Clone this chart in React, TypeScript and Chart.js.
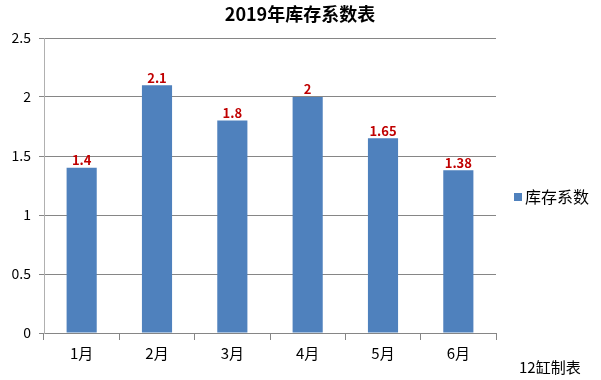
import React, { useEffect, useRef } from "react";
import { Chart, registerables } from "chart.js";

Chart.register(...registerables);

const categories = ["1月", "2月", "3月", "4月", "5月", "6月"];
const values = [1.4, 2.1, 1.8, 2, 1.65, 1.38];
const valueLabels = ["1.4", "2.1", "1.8", "2", "1.65", "1.38"];
const seriesName = "库存系数";
const titleText = "2019年库存系数表";
const footText = "12缸制表";

const FONT = "'Noto Sans CJK SC', 'Liberation Sans', sans-serif";

export default function App() {
  const ref = useRef<HTMLCanvasElement | null>(null);

  useEffect(() => {
    document.body.style.margin = "0";
    const canvas = ref.current!;
    const extras = {
      id: "extras",
      afterDraw(chart: any) {
        const ctx = chart.ctx;
        const meta = chart.getDatasetMeta(0);
        ctx.save();
        // data labels
        ctx.fillStyle = "#c00000";
        ctx.font = `bold 13px ${FONT}`;
        ctx.textAlign = "center";
        ctx.textBaseline = "bottom";
        meta.data.forEach((bar: any, i: number) => {
          ctx.fillText(valueLabels[i], bar.x, bar.y - 1);
        });
        // title
        ctx.fillStyle = "#000";
        ctx.font = `bold 18px ${FONT}`;
        ctx.textBaseline = "middle";
        ctx.fillText(titleText, 300, 14);
        // legend
        ctx.fillStyle = "#4f81bd";
        ctx.fillRect(514, 193, 8, 8);
        ctx.fillStyle = "#000";
        ctx.font = `16px ${FONT}`;
        ctx.textAlign = "left";
        ctx.fillText(seriesName, 525, 197);
        // footer
        ctx.font = `15px ${FONT}`;
        ctx.fillText(footText, 519, 367);
        ctx.restore();
      },
    };
    const chart = new Chart(canvas, {
      type: "bar",
      data: {
        labels: categories,
        datasets: [
          {
            label: seriesName,
            data: values,
            backgroundColor: "#4f81bd",
            borderWidth: 0,
            barPercentage: 0.4,
            categoryPercentage: 1,
          },
        ],
      },
      options: {
        animation: false,
        responsive: false,
        maintainAspectRatio: false,
        layout: { padding: { left: 0, right: 105, top: 38, bottom: 0 } },
        plugins: {
          legend: { display: false },
          title: { display: false },
          tooltip: { enabled: false },
        },
        scales: {
          x: {
            afterFit(scale: any) {
              scale.height = 47;
            },
            grid: {
              offset: true,
              drawOnChartArea: false,
              drawTicks: true,
              tickLength: 7,
              color: "#868686",
            },
            border: { color: "#868686", width: 1 },
            ticks: {
              color: "#000",
              font: { family: FONT, size: 15 },
              padding: 4,
            },
          },
          y: {
            min: 0,
            max: 2.5,
            afterFit(scale: any) {
              scale.width = 44;
            },
            grid: {
              color: "#868686",
              drawTicks: true,
              tickLength: 5,
            },
            border: { color: "#b0b0b0", width: 1 },
            ticks: {
              stepSize: 0.5,
              color: "#000",
              font: { family: FONT, size: 14 },
              padding: 8,
              callback: (v: any) => String(v),
            },
          },
        },
      },
      plugins: [extras],
    } as any);
    return () => chart.destroy();
  }, []);

  return (
    <div style={{ position: "fixed", left: 0, top: 0, width: 601, height: 380, background: "#fff" }}>
      <canvas ref={ref} width={601} height={380} style={{ width: 601, height: 380 }} />
    </div>
  );
}
